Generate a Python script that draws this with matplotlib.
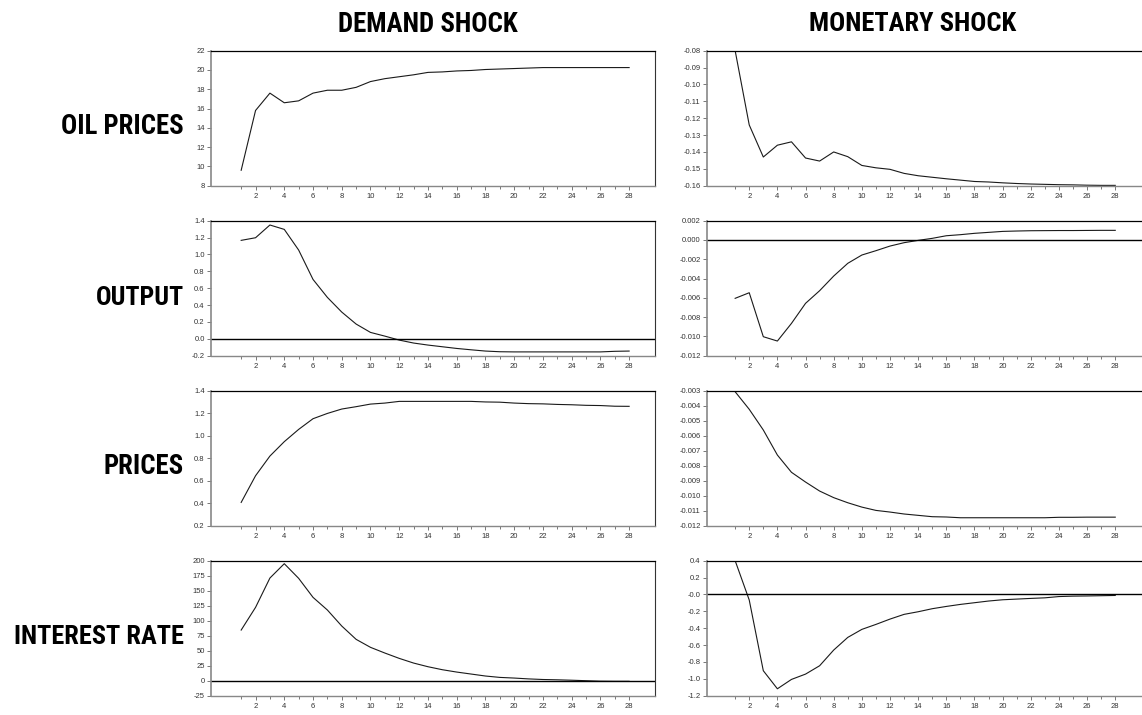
import matplotlib
matplotlib.use("Agg")
import matplotlib.pyplot as plt
from matplotlib import font_manager

# impulse responses, periods 1..28
periods = list(range(1, 29))

oil_demand = [9.6, 15.8, 17.6, 16.6, 16.8, 17.6, 17.9, 17.9, 18.2, 18.8,
              19.1, 19.3, 19.5, 19.75, 19.8, 19.9, 19.95, 20.05, 20.1, 20.15,
              20.2, 20.25, 20.25, 20.25, 20.25, 20.25, 20.25, 20.25]
oil_monetary = [-0.080, -0.124, -0.143, -0.136, -0.134, -0.1436, -0.1454, -0.140,
                -0.1428, -0.148, -0.1494, -0.1503, -0.1527, -0.1541, -0.155,
                -0.1559, -0.1567, -0.1575, -0.1578, -0.1583, -0.1587, -0.159,
                -0.1592, -0.1594, -0.1595, -0.1597, -0.1598, -0.1598]

output_demand = [1.167, 1.198, 1.349, 1.297, 1.052, 0.704, 0.491, 0.317, 0.175,
                 0.076, 0.032, -0.015, -0.05, -0.074, -0.094, -0.114, -0.13,
                 -0.145, -0.153, -0.155, -0.155, -0.155, -0.155, -0.155, -0.155,
                 -0.155, -0.148, -0.145]
output_monetary = [-0.00605, -0.00547, -0.01003, -0.01048, -0.00865, -0.00657,
                   -0.00526, -0.00374, -0.00242, -0.00156, -0.00111, -0.00063,
                   -0.00028, -0.00004, 0.00017, 0.00044, 0.00055, 0.00069,
                   0.00079, 0.00089, 0.00093, 0.00096, 0.00097, 0.00098,
                   0.00098, 0.00099, 0.0010, 0.0010]

prices_demand = [0.407, 0.644, 0.819, 0.947, 1.056, 1.151, 1.198, 1.237, 1.258,
                 1.281, 1.29, 1.305, 1.305, 1.305, 1.305, 1.305, 1.305, 1.30,
                 1.298, 1.29, 1.285, 1.283, 1.278, 1.275, 1.27, 1.268, 1.262, 1.261]
prices_monetary = [-0.00307, -0.00424, -0.00562, -0.00729, -0.00844, -0.00909,
                   -0.00969, -0.01013, -0.01047, -0.01076, -0.01098, -0.01109,
                   -0.01122, -0.01131, -0.0114, -0.01142, -0.01147, -0.01147,
                   -0.01147, -0.01147, -0.01147, -0.01147, -0.01147, -0.01144,
                   -0.01144, -0.01143, -0.01143, -0.01143]

rate_demand = [84.4, 122.2, 171.1, 195.0, 170.6, 138.9, 117.8, 91.1, 68.9, 55.6,
               46.1, 37.2, 29.4, 23.3, 18.3, 14.4, 11.1, 7.8, 5.5, 4.4, 3.0,
               2.0, 1.5, 0.8, 0.0, -0.8, -1.0, -1.0]
rate_monetary = [0.40, -0.066, -0.904, -1.118, -1.007, -0.944, -0.845, -0.659,
                 -0.509, -0.414, -0.355, -0.292, -0.236, -0.205, -0.169, -0.142,
                 -0.118, -0.098, -0.078, -0.063, -0.055, -0.047, -0.04, -0.025,
                 -0.02, -0.018, -0.015, -0.012]

col_titles = ["DEMAND SHOCK", "MONETARY SHOCK"]
row_titles = ["OIL PRICES", "OUTPUT", "PRICES", "INTEREST RATE"]

series = [[oil_demand, oil_monetary],
          [output_demand, output_monetary],
          [prices_demand, prices_monetary],
          [rate_demand, rate_monetary]]

# y ticks and their labels as printed
yticks = [[[8, 10, 12, 14, 16, 18, 20, 22],
           [-0.16, -0.15, -0.14, -0.13, -0.12, -0.11, -0.10, -0.09, -0.08]],
          [[-0.2, 0.0, 0.2, 0.4, 0.6, 0.8, 1.0, 1.2, 1.4],
           [-0.012, -0.010, -0.008, -0.006, -0.004, -0.002, 0.000, 0.002]],
          [[0.2, 0.4, 0.6, 0.8, 1.0, 1.2, 1.4],
           [-0.012, -0.011, -0.010, -0.009, -0.008, -0.007, -0.006, -0.005,
            -0.004, -0.003]],
          [[-25, 0, 25, 50, 75, 100, 125, 150, 175, 200],
           [-1.2, -1.0, -0.8, -0.6, -0.4, -0.2, 0.0, 0.2, 0.4]]]
ylabels = [[["8", "10", "12", "14", "16", "18", "20", "22"],
            ["-0.16", "-0.15", "-0.14", "-0.13", "-0.12", "-0.11", "-0.10",
             "-0.09", "-0.08"]],
           [["-0.2", "0.0", "0.2", "0.4", "0.6", "0.8", "1.0", "1.2", "1.4"],
            ["-0.012", "-0.010", "-0.008", "-0.006", "-0.004", "-0.002",
             "0.000", "0.002"]],
           [["0.2", "0.4", "0.6", "0.8", "1.0", "1.2", "1.4"],
            ["-0.012", "-0.011", "-0.010", "-0.009", "-0.008", "-0.007",
             "-0.006", "-0.005", "-0.004", "-0.003"]],
           [["-25", "0", "25", "50", "75", "100", "125", "150", "175", "200"],
            ["-1.2", "-1.0", "-0.8", "-0.6", "-0.4", "-0.2", "-0.0", "0.2",
             "0.4"]]]
zero_line = [[False, False], [True, True], [False, False], [True, True]]

# pick a narrow bold face if one is installed
fonts = font_manager.fontManager.ttflist
head_font, head_stretch = ["Liberation Sans", "DejaVu Sans"], "normal"
for name in ["Liberation Sans Narrow", "Roboto Condensed", "Open Sans Condensed"]:
    if any(f.name == name for f in fonts):
        head_font = [name, "DejaVu Sans"]
        break
else:
    if any(f.name == "DejaVu Sans" and f.stretch == "condensed" and f.weight in (700, "bold")
           for f in fonts):
        head_font, head_stretch = ["DejaVu Sans"], "condensed"
plt.rcParams["font.family"] = ["Liberation Sans", "DejaVu Sans"]

fig = plt.figure(figsize=(11.42, 7.15), dpi=100)

W, H = 1142.0, 715.0
col_x = [(211, 655), (707, 1142)]
col_xlim = [(-1.1, 29.8), (-1.0, 29.9)]
row_top = [50.7, 220.7, 390.7, 560.7]
panel_h = 135.0

for r in range(4):
    for c in range(2):
        x0, x1 = col_x[c]
        ax = fig.add_axes([x0 / W, 1 - (row_top[r] + panel_h) / H,
                           (x1 - x0) / W, panel_h / H])
        ax.plot(periods, series[r][c], color="#1a1a1a", lw=0.8)
        if zero_line[r][c]:
            ax.axhline(0, color="black", lw=1.0)
        ax.set_xlim(*col_xlim[c])
        ax.set_ylim(yticks[r][c][0], yticks[r][c][-1])
        ax.set_xticks(periods[1::2])
        ax.set_xticklabels([str(p) for p in periods[1::2]])
        ax.set_xticks(periods[0::2], minor=True)
        ax.set_yticks(yticks[r][c])
        ax.set_yticklabels(ylabels[r][c])
        ax.tick_params(axis="both", which="major", direction="out", length=3,
                       width=0.7, color="#777777", labelsize=5.5, pad=1.5,
                       labelcolor="#333333")
        ax.tick_params(axis="x", which="major", pad=2.5)
        ax.tick_params(axis="x", which="minor", direction="out", length=2,
                       width=0.7, color="#777777")
        ax.spines["left"].set_color("#888888")
        ax.spines["left"].set_linewidth(1.2)
        ax.spines["bottom"].set_color("#888888")
        ax.spines["bottom"].set_linewidth(1.0)
        ax.spines["top"].set_color("black")
        ax.spines["top"].set_linewidth(0.9)
        ax.spines["right"].set_color("#333333")
        ax.spines["right"].set_linewidth(0.8)
        if c == 1:
            ax.spines["right"].set_visible(False)

renderer = fig.canvas.get_renderer()


def heading(x, y, s, width_px, ha, base=20):
    # shrink the heading until it is as wide as in the original
    t = fig.text(x / W, 1 - y / H, s, ha=ha, va="center", fontsize=base,
                 fontweight="bold", family=head_font, fontstretch=head_stretch)
    w = t.get_window_extent(renderer).width
    if w > width_px:
        t.set_fontsize(base * width_px / w)
    return t


heading(428, 24, col_titles[0], 180, "center")
heading(913, 24, col_titles[1], 207, "center")
row_y = [127, 298, 466, 637]
row_w = [122, 88, 80, 170]
for name, yy, ww in zip(row_titles, row_y, row_w):
    heading(184, yy, name, ww, "right", base=21)

fig.savefig("out.png", dpi=100)
